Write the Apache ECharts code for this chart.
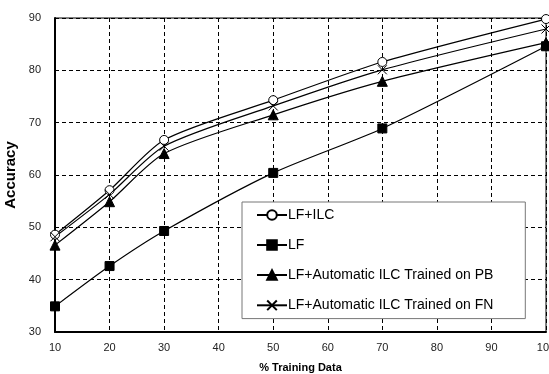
<!DOCTYPE html>
<html>
<head>
<meta charset="utf-8">
<script src="https://cdn.jsdelivr.net/npm/echarts@6/dist/echarts.min.js"></script>
<style>
  html, body { margin: 0; padding: 0; background: #fff; }
  #main { width: 549px; height: 374px; }
</style>
</head>
<body>
<div id="main"></div>
<script>
// % training data
var xs = [10, 20, 30, 50, 70, 100];
// accuracy values
var lfIlc = [48.6, 57.1, 66.7, 74.3, 81.6, 89.8];
var lf = [34.9, 42.6, 49.3, 60.4, 68.9, 84.6];
var lfPb = [46.6, 54.9, 64.1, 71.5, 77.9, 85.3];
var lfFn = [48.2, 56.3, 65.5, 73.2, 80.1, 87.9];

var names = ['LF+ILC', 'LF', 'LF+Automatic ILC Trained on PB', 'LF+Automatic ILC Trained on FN'];

function pairs(ys) {
  var out = [];
  for (var i = 0; i < xs.length; i++) out.push([xs[i], ys[i]]);
  return out;
}

var chart = echarts.init(document.getElementById('main'));
var font = 'Liberation Sans, Arial, sans-serif';

function mk(name, ys, symbol, fill, size) {
  return {
    name: name,
    type: 'line',
    data: pairs(ys),
    smooth: 0.25,
    symbol: symbol,
    symbolSize: size,
    showAllSymbol: true,
    lineStyle: { color: '#000', width: 1.2 },
    itemStyle: { color: fill, borderColor: '#000', borderWidth: 1 },
    z: 3
  };
}

var option = {
  animation: false,
  backgroundColor: '#fff',
  textStyle: { fontFamily: font },
  grid: {
    left: 55, right: 3, top: 18, bottom: 42,
    outerBoundsMode: 'none',
    containLabel: false,
    show: true, borderColor: '#000', borderWidth: 1
  },
  legend: {
    orient: 'vertical',
    left: 242, top: 202,
    padding: [6, 32, 6, 14],
    backgroundColor: '#fff',
    borderColor: '#777',
    borderWidth: 1,
    itemWidth: 30,
    itemHeight: 12,
    itemGap: 16,
    textStyle: { fontSize: 14, color: '#000', fontFamily: font, padding: [0, 0, 0, -4] },
    data: names
  },
  xAxis: {
    type: 'value',
    min: 10, max: 100, interval: 10,
    name: '% Training Data',
    nameLocation: 'middle',
    nameGap: 30,
    nameTextStyle: { fontSize: 11, fontWeight: 'bold', color: '#000' },
    axisLine: { lineStyle: { color: '#000', width: 2 } },
    axisTick: { show: false },
    axisLabel: { fontSize: 11, color: '#222', margin: 10 },
    splitLine: { lineStyle: { color: '#000', type: [4, 3], width: 1 } }
  },
  yAxis: {
    type: 'value',
    min: 30, max: 90, interval: 10,
    name: 'Accuracy',
    nameLocation: 'middle',
    nameGap: 28,
    nameTextStyle: { fontSize: 15, fontWeight: 'bold', color: '#000' },
    axisLine: { show: true, lineStyle: { color: '#000', width: 2 } },
    axisTick: { show: false },
    axisLabel: { fontSize: 11, color: '#222', margin: 14 },
    splitLine: { lineStyle: { color: '#000', type: [4, 3], width: 1 } }
  },
  series: [
    mk(names[0], lfIlc, 'circle', '#fff', 9),
    mk(names[1], lf, 'rect', '#000', 9),
    mk(names[2], lfPb, 'triangle', '#000', 10),
    mk(names[3], lfFn, 'path://M0,0L10,10M10,0L0,10', 'none', 9)
  ]
};
chart.setOption(option);
</script>
</body>
</html>
